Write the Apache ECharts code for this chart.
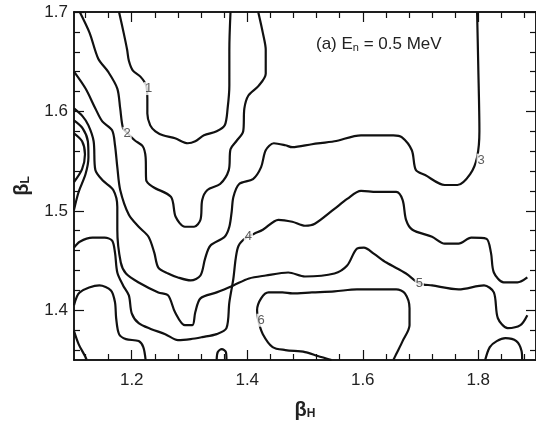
<!DOCTYPE html>
<html>
<head>
<meta charset="utf-8">
<script src="https://cdn.jsdelivr.net/npm/echarts@6/dist/echarts.min.js"></script>
<style>
    html, body { margin: 0; padding: 0; background: #fff; }
    #chart { width: 536px; height: 425px; }
</style>
</head>
<body>
<div id="chart"></div>
<script>
// tick values
var xMajor = [1.2, 1.4, 1.6, 1.8];
var xMinor = [1.12, 1.16, 1.24, 1.28, 1.32, 1.36, 1.44, 1.48, 1.52, 1.56, 1.64, 1.68, 1.72, 1.76, 1.84, 1.88];
var yMajor = [1.4, 1.5, 1.6, 1.7];
var yMinor = [1.36, 1.38, 1.42, 1.44, 1.46, 1.48, 1.52, 1.54, 1.56, 1.58, 1.62, 1.64, 1.66, 1.68];

// contour lines, [betaH, betaL]
var level1 = [[1.178,1.700],[1.186,1.679],[1.192,1.662],[1.195,1.651],[1.202,1.641],[1.215,1.635],[1.225,1.626],
    [1.227,1.613],[1.227,1.598],[1.232,1.586],[1.241,1.580],[1.254,1.576],[1.275,1.573],[1.297,1.568],[1.310,1.570],
    [1.325,1.576],[1.347,1.580],[1.361,1.586],[1.366,1.603],[1.369,1.626],[1.369,1.662],[1.371,1.700]];

var level2 = [[1.110,1.700],[1.127,1.679],[1.142,1.653],[1.159,1.640],[1.175,1.623],[1.180,1.603],[1.185,1.583],
    [1.193,1.578],[1.205,1.571],[1.219,1.565],[1.224,1.554],[1.225,1.531],[1.237,1.524],[1.268,1.514],[1.276,1.494],
    [1.292,1.484],[1.308,1.484],[1.319,1.491],[1.322,1.511],[1.331,1.521],[1.353,1.527],[1.368,1.541],[1.371,1.562],
    [1.381,1.570],[1.393,1.580],[1.395,1.603],[1.402,1.616],[1.420,1.626],[1.432,1.638],[1.432,1.662],[1.427,1.679],
    [1.419,1.700]];

var level3 = [[1.100,1.640],[1.120,1.623],[1.137,1.603],[1.149,1.590],[1.166,1.581],[1.171,1.566],[1.175,1.544],
    [1.180,1.521],[1.195,1.496],[1.212,1.484],[1.229,1.474],[1.239,1.458],[1.246,1.443],[1.263,1.437],[1.280,1.433],
    [1.302,1.430],[1.319,1.435],[1.327,1.452],[1.336,1.465],[1.361,1.474],[1.369,1.484],[1.373,1.499],[1.376,1.514],
    [1.386,1.527],[1.410,1.532],[1.424,1.544],[1.432,1.561],[1.446,1.568],[1.466,1.566],[1.478,1.564],[1.512,1.567],
    [1.551,1.570],[1.597,1.576],[1.653,1.576],[1.668,1.574],[1.685,1.561],[1.692,1.541],[1.708,1.536],[1.742,1.526],
    [1.764,1.526],[1.786,1.537],[1.798,1.554],[1.802,1.580],[1.800,1.646],[1.798,1.700]];

var level4 = [[1.100,1.463],[1.110,1.469],[1.132,1.473],[1.153,1.473],[1.166,1.470],[1.171,1.458],[1.175,1.438],
    [1.185,1.425],[1.195,1.415],[1.200,1.397],[1.212,1.387],[1.234,1.381],[1.258,1.376],[1.280,1.370],[1.302,1.371],
    [1.322,1.373],[1.347,1.376],[1.364,1.382],[1.369,1.408],[1.376,1.432],[1.380,1.452],[1.385,1.465],[1.398,1.473],
    [1.412,1.477],[1.427,1.481],[1.454,1.491],[1.478,1.489],[1.500,1.485],[1.517,1.487],[1.551,1.502],[1.573,1.512],
    [1.597,1.520],[1.624,1.519],[1.658,1.519],[1.669,1.511],[1.675,1.491],[1.686,1.481],[1.720,1.474],[1.742,1.467],
    [1.766,1.467],[1.788,1.473],[1.814,1.472],[1.822,1.458],[1.827,1.438],[1.844,1.428],[1.868,1.428],[1.885,1.433]];

var level5 = [[1.100,1.603],[1.115,1.595],[1.125,1.586],[1.134,1.570],[1.137,1.541],[1.149,1.531],[1.168,1.521],
    [1.175,1.504],[1.175,1.481],[1.181,1.448],[1.190,1.437],[1.212,1.428],[1.246,1.418],[1.263,1.415],[1.275,1.398],
    [1.292,1.385],[1.305,1.385],[1.310,1.398],[1.319,1.412],[1.347,1.418],[1.376,1.425],[1.403,1.432],[1.432,1.435],
    [1.471,1.438],[1.500,1.434],[1.551,1.437],[1.573,1.445],[1.590,1.462],[1.602,1.463],[1.619,1.457],[1.641,1.448],
    [1.675,1.437],[1.698,1.427],[1.720,1.425],[1.766,1.421],[1.810,1.425],[1.827,1.418],[1.834,1.392],[1.851,1.382],
    [1.873,1.385],[1.885,1.395]];

var level6 = [[1.546,1.350],[1.522,1.354],[1.500,1.358],[1.466,1.360],[1.444,1.363],[1.427,1.376],[1.419,1.390],
    [1.417,1.400],[1.424,1.412],[1.437,1.418],[1.461,1.418],[1.478,1.417],[1.512,1.418],[1.551,1.419],[1.590,1.421],
    [1.619,1.421],[1.658,1.421],[1.673,1.417],[1.681,1.402],[1.681,1.385],[1.669,1.369],[1.658,1.356],[1.653,1.350]];

var leftOuter = [[1.100,1.591],[1.115,1.583],[1.124,1.570],[1.125,1.554],[1.120,1.537],[1.108,1.519],[1.100,1.501]];
var leftInner = [[1.100,1.578],[1.114,1.570],[1.119,1.557],[1.114,1.542],[1.100,1.529]];
var lowLeftBump = [[1.100,1.405],[1.110,1.418],[1.144,1.425],[1.164,1.420],[1.171,1.408],[1.173,1.392],[1.178,1.376],
    [1.190,1.371],[1.212,1.369],[1.220,1.363],[1.224,1.350]];
var cornerArc = [[1.100,1.379],[1.108,1.366],[1.119,1.354],[1.122,1.350]];
var smallLoop = [[1.347,1.350],[1.349,1.358],[1.356,1.361],[1.363,1.358],[1.364,1.350]];
var rightBump = [[1.812,1.350],[1.820,1.363],[1.832,1.369],[1.847,1.372],[1.866,1.369],[1.875,1.359],[1.876,1.350]];

var contours = [level1, level2, level3, level4, level5, level6, leftOuter, leftInner, lowLeftBump, cornerArc, smallLoop, rightBump];

// contour labels, [betaH, betaL, text]
var levelLabels = [[1.229,1.623,'1'],[1.192,1.578,'2'],[1.805,1.551,'3'],[1.402,1.474,'4'],[1.698,1.427,'5'],[1.424,1.390,'6']];

var font = 'Liberation Sans, Arial, Helvetica, sans-serif';
var chart = echarts.init(document.getElementById('chart'));

function fmt(v) { return v.toFixed(1); }

function xAx(pos, values, len, labels) {
    return {
        type: 'value', position: pos, min: 1.1, max: 1.9,
        axisLine: { show: true, lineStyle: { color: '#111', width: 1.5 } },
        axisTick: { show: true, inside: true, length: len, customValues: values, lineStyle: { color: '#111', width: 1.2 } },
        axisLabel: { show: labels, customValues: values, formatter: fmt, fontSize: 17, color: '#222', fontFamily: font, margin: 12 },
        splitLine: { show: false }
    };
}
function yAx(pos, values, len, labels) {
    return {
        type: 'value', position: pos, min: 1.35, max: 1.7,
        axisLine: { show: true, lineStyle: { color: '#111', width: 1.5 } },
        axisTick: { show: true, inside: true, length: len, customValues: values, lineStyle: { color: '#111', width: 1.2 } },
        axisLabel: { show: labels, customValues: values, formatter: fmt, fontSize: 17, color: '#222', fontFamily: font, margin: 6 },
        splitLine: { show: false }
    };
}

var nameRich = {
    b: { fontSize: 20, fontWeight: 'bold', color: '#222', fontFamily: font },
    s: { fontSize: 12, fontWeight: 'bold', color: '#222', fontFamily: font, padding: [7, 0, 0, 0] }
};

var xAxes = [xAx('bottom', xMajor, 10, true), xAx('bottom', xMinor, 6, false), xAx('top', xMajor, 10, false), xAx('top', xMinor, 6, false)];
xAxes[0].name = '{b|β}{s|H}';
xAxes[0].nameLocation = 'middle';
xAxes[0].nameGap = 40;
xAxes[0].nameTextStyle = { fontFamily: font, rich: nameRich };

var yAxes = [yAx('left', yMajor, 10, true), yAx('left', yMinor, 6, false), yAx('right', yMajor, 10, false), yAx('right', yMinor, 6, false)];
yAxes[0].name = '{b|β}{s|L}';
yAxes[0].nameLocation = 'middle';
yAxes[0].nameRotate = 90;
yAxes[0].nameGap = 42;
yAxes[0].nameTextStyle = { fontFamily: font, rich: nameRich };

var series = contours.map(function (c) {
    return {
        type: 'line', data: c, xAxisIndex: 0, yAxisIndex: 0,
        showSymbol: false, smooth: 0.3, clip: true, silent: true,
        lineStyle: { color: '#111', width: 2.2 }
    };
});
series.push({
    type: 'scatter', data: levelLabels, xAxisIndex: 0, yAxisIndex: 0,
    symbolSize: 1, itemStyle: { color: 'rgba(0,0,0,0)' }, silent: true, z: 5,
    label: {
        show: true, position: 'inside', fontSize: 13, color: '#333', fontFamily: font,
        backgroundColor: '#fff', padding: [0, 1],
        formatter: function (p) { return p.value[2]; }
    }
});

chart.setOption({
    animation: false,
    backgroundColor: '#fff',
    grid: { left: 74, top: 12, width: 472, height: 354 },
    xAxis: xAxes,
    yAxis: yAxes,
    graphic: [{
        type: 'text', left: 316, top: 36,
        style: {
            text: '(a) E{s|n} = 0.5 MeV',
            font: '17px ' + font, fill: '#222',
            rich: { s: { fontSize: 11, fontFamily: font, fill: '#222', padding: [6, 0, 0, 0] } }
        }
    }],
    series: series
});
</script>
</body>
</html>
